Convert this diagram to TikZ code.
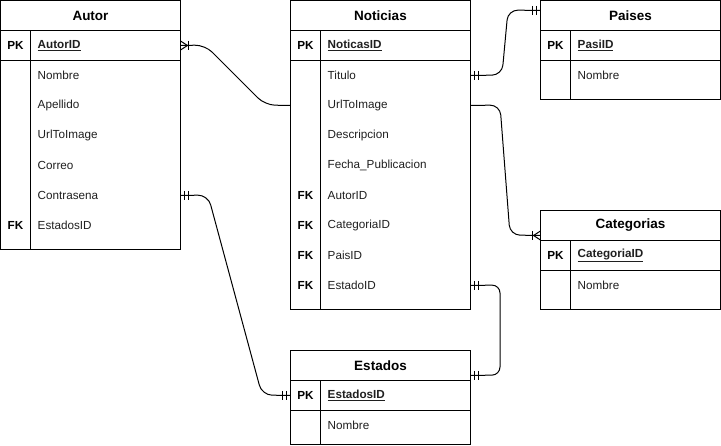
\documentclass[tikz,border=0pt]{standalone}
\usepackage{fontspec}
\setmainfont{Liberation Sans}
\usetikzlibrary{calc}
\tikzset{
  tbl/.style={draw, line width=1pt, inner sep=0pt, outer sep=0pt},
  ttl/.style={font=\fontsize{13.5}{15}\selectfont\bfseries, anchor=center, inner sep=0pt},
  fld/.style={font=\fontsize{11.7}{14}\selectfont, anchor=west, inner sep=0pt, text=black!88},
  keyc/.style={font=\fontsize{11.7}{14}\selectfont\bfseries, anchor=center, inner sep=0pt},
  conn/.style={line width=1pt, rounded corners=10pt},
  tick/.style={line width=1pt},
}
\newcommand\pkname[1]{\textbf{\underline{#1}}}
\newcommand\ertable[6]{%
  \node[tbl, minimum width=#4pt, minimum height=#5pt, anchor=north west] (#1) at (#2,#3) {};
  \draw[tbl] ([yshift=-30pt]#1.north west) -- ([yshift=-30pt]#1.north east);
  \draw[tbl] ([yshift=-60pt]#1.north west) -- ([yshift=-60pt]#1.north east);
  \draw[tbl] ([xshift=30pt,yshift=-30pt]#1.north west) -- ([xshift=30pt]#1.south west);
  \node[ttl] (#1-t) at ([yshift=-15pt]#1.north) {#6};
}
\newcommand\erow[5]{%
  \node[fld] (#2) at ([xshift=37pt,yshift=-#3pt]#1.north west) {#5};
  \node[keyc] (#2-k) at ([xshift=15pt,yshift=-#3pt]#1.north west) {#4};
}
\newcommand\mone[2]{%
  \draw[tick] ($(#1)+(#2*4,-4.5)$) -- ++(0,9);
  \draw[tick] ($(#1)+(#2*8,-4.5)$) -- ++(0,9);
}
\newcommand\mmany[2]{%
  \draw[tick] ($(#1)+(0,-4.5)$) -- ($(#1)+(#2*7,0)$) -- ($(#1)+(0,4.5)$);
  \draw[tick] ($(#1)+(#2*8,-4.5)$) -- ++(0,9);
}
\begin{document}
\begin{tikzpicture}[x=1pt, y=-1pt]
\useasboundingbox (0,0) rectangle (721,446);
% tables
\ertable{autor}{0.5}{0.5}{180}{249.5}{Autor}
\erow{autor}{autorid}{45}{PK}{\pkname{AutorID}}
\erow{autor}{anombre}{75}{}{Nombre}
\erow{autor}{aapellido}{105}{}{Apellido}
\erow{autor}{aurl}{135}{}{UrlToImage}
\erow{autor}{acorreo}{165}{}{Correo}
\erow{autor}{acontra}{195}{}{Contrasena}
\erow{autor}{aestados}{225}{FK}{EstadosID}

\ertable{noticias}{290.5}{0.5}{180}{309.5}{Noticias}
\erow{noticias}{nid}{45}{PK}{\pkname{NoticasID}}
\erow{noticias}{ntitulo}{75}{}{Titulo}
\erow{noticias}{nurl}{105}{}{UrlToImage}
\erow{noticias}{ndesc}{135}{}{Descripcion}
\erow{noticias}{nfecha}{165}{}{Fecha\_Publicacion}
\erow{noticias}{nautor}{195}{FK}{AutorID}
\erow{noticias}{ncat}{225}{FK}{CategoriaID}
\erow{noticias}{npais}{255}{FK}{PaisID}
\erow{noticias}{nestado}{285}{FK}{EstadoID}

\ertable{paises}{540.5}{0.5}{180}{99.5}{Paises}
\erow{paises}{pid}{45}{PK}{\pkname{PasiID}}
\erow{paises}{pnombre}{75}{}{Nombre}

\ertable{categorias}{540.5}{210.5}{180}{99.5}{Categorias}
\erow{categorias}{cid}{45}{PK}{\pkname{CategoriaID}}
\erow{categorias}{cnombre}{75}{}{Nombre}

\ertable{estados}{290.5}{350.5}{180}{94.5}{Estados}
\erow{estados}{eid}{45}{PK}{\pkname{EstadosID}}
\erow{estados}{enombre}{75}{}{Nombre}

% connector end points
\coordinate (c1a) at (autor.east |- autorid);
\coordinate (c1b) at (noticias.west |- nurl);
\coordinate (c2a) at (noticias.east |- ntitulo);
\coordinate (c2b) at ([yshift=-10pt]paises.north west);
\coordinate (c3a) at (noticias.east |- nurl);
\coordinate (c3b) at ([yshift=-25pt]categorias.north west);
\coordinate (c4a) at (autor.east |- acontra);
\coordinate (c4b) at (estados.west |- eid);
\coordinate (c5a) at (noticias.east |- nestado);
\coordinate (c5b) at ([yshift=-25pt]estados.north east);

% connectors
\draw[conn] (c1a) -- (205,45) -- (265,105) -- (c1b);
\draw[conn] (c2a) -- (502,75) -- (508,10) -- (c2b);
\draw[conn] (c3a) -- (500,105) -- (510,235) -- (c3b);
\draw[conn] (c4a) -- (208,195) -- (262,395) -- (c4b);
\draw[conn, rounded corners=8pt] (c5a) -- (500,285) -- (500,375) -- (c5b);

% markers
\mmany{c1a}{1}
\mone{c2a}{1}
\mone{c2b}{-1}
\mmany{c3b}{-1}
\mone{c4a}{1}
\mone{c4b}{-1}
\mone{c5a}{1}
\mone{c5b}{1}
\end{tikzpicture}
\end{document}
